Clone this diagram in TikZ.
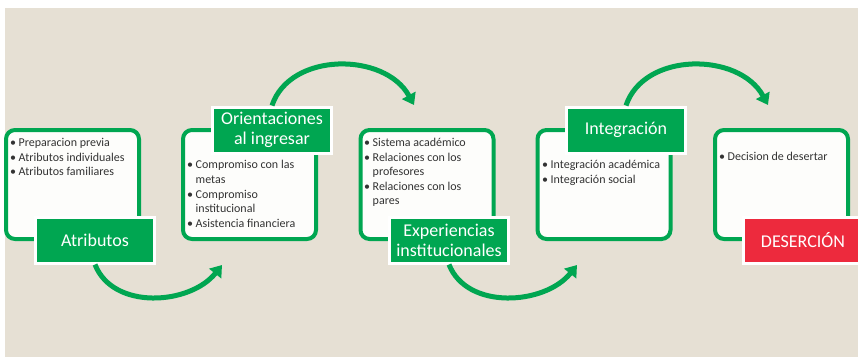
\documentclass[tikz,border=0pt]{standalone}
\usepackage{array}
\usepackage{fontspec}
\setmainfont{Carlito}
\usetikzlibrary{arrows.meta}
\definecolor{beige}{HTML}{E6E0D4}
\definecolor{leaf}{HTML}{00A651}
\definecolor{alarm}{HTML}{ED2A3D}
\definecolor{ink}{HTML}{333333}
\definecolor{paper}{HTML}{FDFDFB}
\newenvironment{blist}{\begin{tabular}{@{}p{8.5pt}@{}>{\raggedright\arraybackslash\hyphenpenalty=10000\relax}p{111pt}@{}}}{\end{tabular}}
\newcommand\bitem[1]{\textbullet & #1\\}

\begin{document}
\begin{tikzpicture}[x=1pt,y=-1pt,
  box/.style={draw=leaf,fill=paper,line width=4pt,rounded corners=9pt,minimum width=133pt,minimum height=109pt,inner sep=0pt},
  tag/.style={draw=white,fill=leaf,line width=3pt,minimum width=119pt,minimum height=46pt,text=white,font=\fontsize{18}{20}\selectfont,align=center,inner sep=0pt},
  list/.style={anchor=north west,inner sep=0pt,text=ink,font=\fontsize{12}{14.6}\selectfont},
  hop/.style={draw=leaf,line width=5pt,-{Triangle[width=15pt,length=11pt]}}]
\useasboundingbox (0,0) rectangle (858,357);
\fill[beige] (5,8) rectangle (858,357);

\node[box] (b1) at (72.5,184.5) {};
\node[box] (b2) at (249.5,184.5) {};
\node[box] (b3) at (427,184.5) {};
\node[box] (b4) at (604,184.5) {};
\node[box] (b5) at (781.5,184.5) {};

\node[list] (t1) at (10,136) {\begin{blist}\bitem{Preparacion previa}\bitem{Atributos individuales}\bitem{Atributos familiares}\end{blist}};
\node[list] (t2) at (187,158.5) {\begin{blist}\bitem{Compromiso con las metas}\bitem{Compromiso institucional}\bitem{Asistencia financiera}\end{blist}};
\node[list] (t3) at (364,136) {\begin{blist}\bitem{Sistema académico}\bitem{Relaciones con los profesores}\bitem{Relaciones con los pares}\end{blist}};
\node[list] (t4) at (542,158.5) {\begin{blist}\bitem{Integración académica}\bitem{Integración social}\end{blist}};
\node[list] (t5) at (719,150.5) {\begin{blist}\bitem{Decision de desertar}\end{blist}};

\node[tag] (l1) at (95,240) {Atributos};
\node[tag] (l2) at (272,130) {Orientaciones\\al ingresar};
\node[tag] (l3) at (449,240) {Experiencias\\institucionales};
\node[tag] (l4) at (626,130) {Integración};
\node[tag,fill=alarm] (l5) at (803,240) {DESERCIÓN};

\coordinate (e1) at (222,265);
\coordinate (e2) at (414,105);
\coordinate (e3) at (577,265);
\coordinate (e4) at (768,105);

\path[hop] (l1.south) .. controls +(18,46) and +(-32,40) .. (e1);
\path[hop] (l2.north) .. controls +(18,-54) and +(-29,-53) .. (e2);
\path[hop] (l3.south) .. controls +(18,46) and +(-32,40) .. (e3);
\path[hop] (l4.north) .. controls +(18,-54) and +(-29,-53) .. (e4);
\end{tikzpicture}
\end{document}
